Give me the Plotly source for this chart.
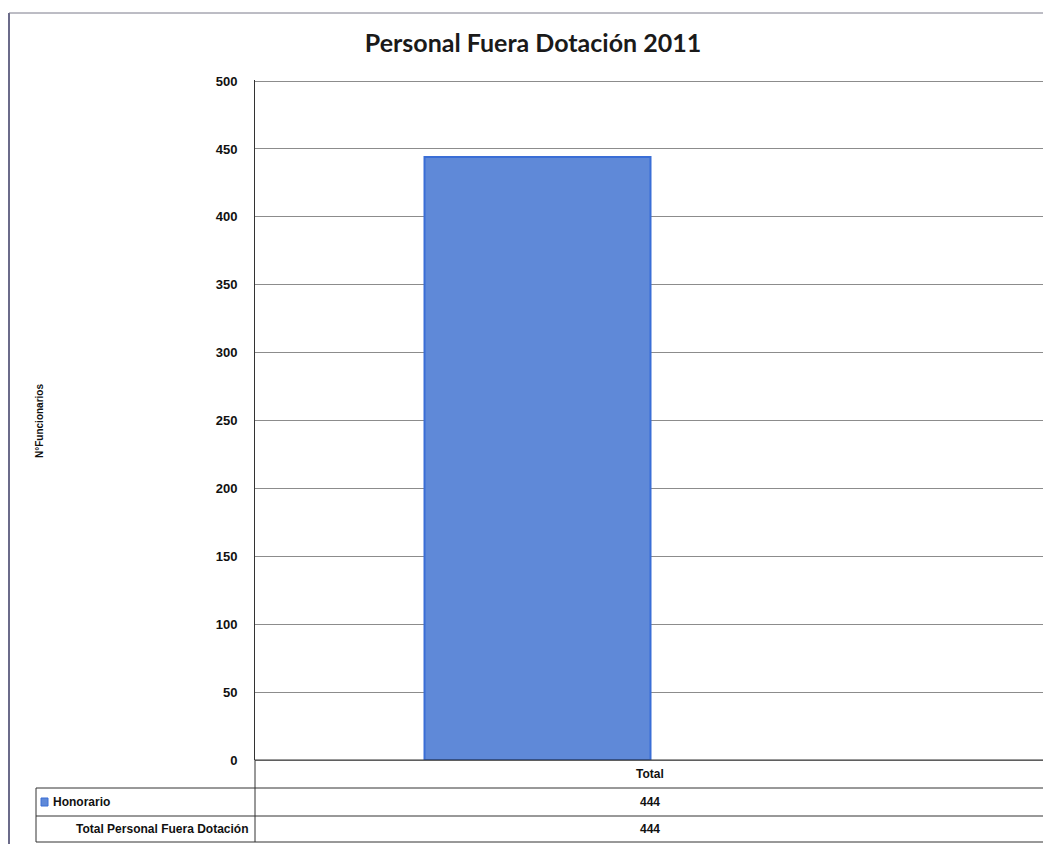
import plotly.graph_objects as go

# ---- data ----
categories = ["Total"]
series_names = ["Honorario", "Total Personal Fuera Dotación"]
honorario = [444]
total_personal = [444]
y_ticks = [0, 50, 100, 150, 200, 250, 300, 350, 400, 450, 500]

OFF = 8  # page body margin
W, H = 1051 - OFF, 844 - OFF
L, R, T, B = 255 - OFF, 5, 80 - OFF, 84
PW, PH = W - L - R, H - T - B

def px(x):
    return (x - OFF - L) / PW

def py(y):
    return (H - B - (y - OFF)) / PH

FONT = "Liberation Sans"
bar_fill = "#5f89d8"
bar_line = "#3a6ed6"
grid = "#8c8c8c"
dark = "#333333"

fig = go.Figure()
fig.add_trace(go.Bar(x=categories, y=honorario, name=series_names[0],
                     marker=dict(color=bar_fill, line=dict(color=bar_line, width=2)),
                     showlegend=False, hoverinfo="y"))
fig.add_trace(go.Bar(x=categories, y=total_personal, name=series_names[1],
                     marker=dict(color="rgba(0,0,0,0)", line=dict(width=0)),
                     showlegend=False, hoverinfo="y"))

fig.update_layout(
    width=W, height=H,
    margin=dict(l=L, r=R, t=T, b=B),
    paper_bgcolor="white", plot_bgcolor="white",
    barmode="group", bargap=0.4286, bargroupgap=0,
    title=dict(text="<b>Personal Fuera Dotación 2011</b>", x=(533 - OFF) / W, xanchor="center",
               y=1 - (43 - OFF) / H, yanchor="middle",
               font=dict(family="Lato", size=25, color="#1a1a1a")),
    xaxis=dict(showticklabels=False, showgrid=False, zeroline=False, showline=False,
               fixedrange=True),
    yaxis=dict(range=[0, 500.8], tickvals=y_ticks, showgrid=True, gridcolor=grid,
               gridwidth=1, zeroline=True, zerolinecolor=grid, zerolinewidth=1,
               showline=True, linecolor=dark, linewidth=1,
               ticklabelstandoff=14,
               tickfont=dict(family=FONT, size=13, color="#111111", weight="bold"),
               fixedrange=True),
    font=dict(family=FONT, color="#111111"),
)

shapes = []
line_c = dict(color=dark, width=1)
# outer chart border (left, top)
shapes.append(dict(type="line", xref="paper", yref="paper", x0=px(9), x1=px(9),
                   y0=py(13), y1=py(844), line=dict(color="#6b6b8a", width=2)))
shapes.append(dict(type="line", xref="paper", yref="paper", x0=px(9), x1=px(1051),
                   y0=py(13), y1=py(13), line=dict(color="#7a7a8a", width=1)))
# data table
rows_y = [760, 788, 816, 842]
for i, yy in enumerate(rows_y):
    x0 = 255 if i == 0 else 36
    shapes.append(dict(type="line", xref="paper", yref="paper", x0=px(x0), x1=px(1046),
                       y0=py(yy), y1=py(yy), line=line_c))
shapes.append(dict(type="line", xref="paper", yref="paper", x0=px(255), x1=px(255),
                   y0=py(760), y1=py(842), line=line_c))
shapes.append(dict(type="line", xref="paper", yref="paper", x0=px(1046), x1=px(1046),
                   y0=py(760), y1=py(842), line=line_c))
shapes.append(dict(type="line", xref="paper", yref="paper", x0=px(36), x1=px(36),
                   y0=py(788), y1=py(842), line=line_c))
# legend key
shapes.append(dict(type="rect", xref="paper", yref="paper", x0=px(41), x1=px(48),
                   y0=py(798), y1=py(806), fillcolor=bar_fill,
                   line=dict(color=bar_line, width=1)))
fig.update_layout(shapes=shapes)

tf = dict(family=FONT, size=12, color="#111111")
ann = []
ann.append(dict(xref="paper", yref="paper", x=px(650), y=py(774), text="<b>%s</b>" % categories[0],
                showarrow=False, xanchor="center", yanchor="middle", font=tf))
ann.append(dict(xref="paper", yref="paper", x=px(650), y=py(802), text="<b>%d</b>" % honorario[0],
                showarrow=False, xanchor="center", yanchor="middle", font=tf))
ann.append(dict(xref="paper", yref="paper", x=px(650), y=py(829), text="<b>%d</b>" % total_personal[0],
                showarrow=False, xanchor="center", yanchor="middle", font=tf))
ann.append(dict(xref="paper", yref="paper", x=px(51), y=py(802), text="<b>%s</b>" % series_names[0],
                showarrow=False, xanchor="left", yanchor="middle", font=tf))
ann.append(dict(xref="paper", yref="paper", x=px(250), y=py(829), text="<b>%s</b>" % series_names[1],
                showarrow=False, xanchor="right", yanchor="middle", font=tf))
ann.append(dict(xref="paper", yref="paper", x=px(39), y=py(421), text="<b>N°Funcionarios</b>",
                showarrow=False, textangle=-90, xanchor="center", yanchor="middle",
                font=dict(family="Liberation Sans Narrow, " + FONT, size=10, color="#111111")))
fig.update_layout(annotations=ann)

fig.write_html("out.html")
